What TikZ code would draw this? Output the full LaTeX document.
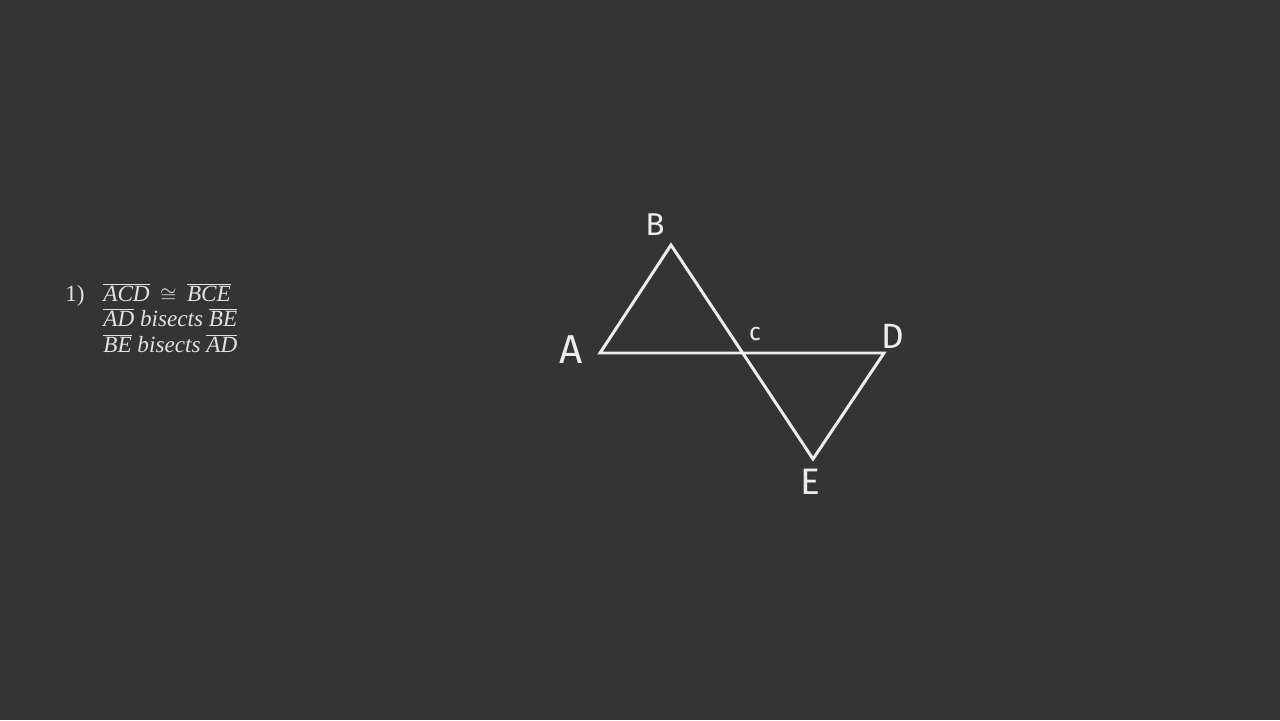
\documentclass[tikz,border=0pt]{standalone}
\usepackage{fontspec}
\setmainfont{Liberation Serif}
\newfontfamily\chalkfont{Fira Sans}
\definecolor{boardgray}{RGB}{52,52,52}
\definecolor{chalkwhite}{RGB}{236,236,236}
\definecolor{printgray}{RGB}{225,225,225}

\newcommand{\segm}[1]{$\overline{\mbox{\textit{#1}}}$}

\tikzset{
  chalkline/.style={draw=chalkwhite, line width=1.7pt},
  vlabel/.style={text=chalkwhite, inner sep=0pt},
  stmt/.style={text=printgray, anchor=base west, inner sep=0pt, font=\fontsize{13.2}{15}\selectfont},
}

\begin{document}
\begin{tikzpicture}[x=0.02cm, y=0.02cm]
    % board
    \fill[boardgray] (0,0) rectangle (1280,720);
    \useasboundingbox (0,0) rectangle (1280,720);

    % given statements
    \node[stmt] (num) at (65,418) {1)};
    \node[stmt] (stmt1) at (103,418) {\segm{ACD}\hspace{0.45em}$\cong$\hspace{0.45em}\segm{BCE}};
    \node[stmt] (stmt2) at (103,393) {\segm{AD} \textit{bisects} \segm{BE}};
    \node[stmt] (stmt3) at (103,367) {\segm{BE} \textit{bisects} \segm{AD}};

    % figure
    \coordinate (A) at (600,367);
    \coordinate (B) at (671,475);
    \coordinate (C) at (742,367);
    \coordinate (D) at (884,367);
    \coordinate (E) at (813,261);

    \draw[chalkline] (B) -- (A) -- (D) -- (E) -- cycle;

    \node[vlabel, font=\chalkfont\fontsize{23}{23}\selectfont] (lblA) at (571,370) {A};
    \node[vlabel, font=\chalkfont\fontsize{18}{18}\selectfont] (lblB) at (655,495) {B};
    \node[vlabel, font=\chalkfont\fontsize{14}{14}\selectfont] (lblC) at (755,386) {c};
    \node[vlabel, font=\chalkfont\fontsize{20}{20}\selectfont] (lblD) at (893,384) {D};
    \node[vlabel, font=\chalkfont\fontsize{21}{21}\selectfont] (lblE) at (810,238) {E};
\end{tikzpicture}
\end{document}
